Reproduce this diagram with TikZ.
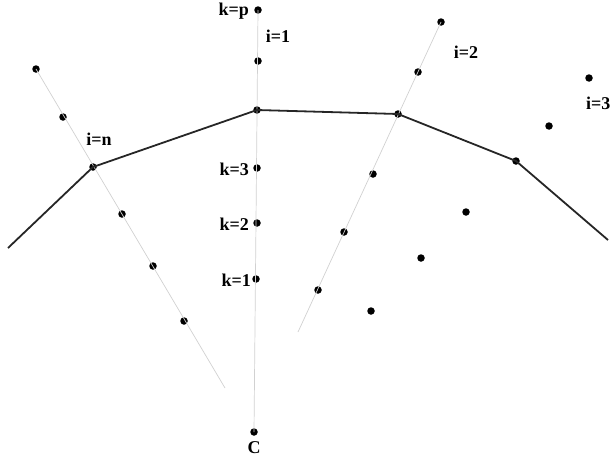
\documentclass[tikz,border=0pt]{standalone}
\usepackage{fontspec}
\setmainfont{Liberation Serif}
\begin{document}
\begin{tikzpicture}[x=1pt,y=-1pt,
  dot/.style={circle,fill=black,inner sep=0pt,minimum size=7.5pt},
  guide/.style={draw=black!18,line width=0.7pt},
  front/.style={draw=black!85,line width=1.8pt,line join=round},
  lab/.style={font=\bfseries\fontsize{18}{18}\selectfont,inner sep=0pt}]
\useasboundingbox (0,0) rectangle (610,458);
% i=1 column
\node[dot] (kp) at (258,10) {};
\node[dot] (a2) at (258,61) {};
\node[dot] (a3) at (257,110) {};
\node[dot] (k3) at (257,168) {};
\node[dot] (k2) at (257,223) {};
\node[dot] (k1) at (256,279) {};
\node[dot] (C) at (254,432) {};
% i=2 column
\node[dot] (b1) at (441,22) {};
\node[dot] (b2) at (418,72) {};
\node[dot] (b3) at (398,114) {};
\node[dot] (b4) at (373,174) {};
\node[dot] (b5) at (344,232) {};
\node[dot] (b6) at (318,290) {};
\coordinate (b7) at (298,332);
% i=3 column
\node[dot] (c1) at (589,78) {};
\node[dot] (c2) at (549,126) {};
\node[dot] (c3) at (516,161) {};
\node[dot] (c4) at (466,212) {};
\node[dot] (c5) at (421,258) {};
\node[dot] (c6) at (371,311) {};
% i=n column
\node[dot] (d1) at (36,69) {};
\node[dot] (d2) at (63,117) {};
\node[dot] (d3) at (93,167) {};
\node[dot] (d4) at (122,214) {};
\node[dot] (d5) at (153,266) {};
\node[dot] (d6) at (184,321) {};
\coordinate (d7) at (225,388);
% ends of front
\coordinate (e0) at (8,248);
\coordinate (e1) at (608,240);
% guide lines
\path[guide] (C.center) -- (kp.center);
\path[guide] (b1.center) -- (b7);
\path[guide] (d1.center) -- (d7);
% front polyline
\path[front] (e0) -- (d3.center) -- (a3.center) -- (b3.center) -- (c3.center) -- (e1);
% labels
\node[lab,anchor=east] at (249,11) {k=p};
\node[lab] at (278,36) {i=1};
\node[lab] at (466,52) {i=2};
\node[lab,anchor=west] at (586,103) {i=3};
\node[lab] at (99,139) {i=n};
\node[lab,anchor=east] at (249,169) {k=3};
\node[lab,anchor=east] at (249,224) {k=2};
\node[lab,anchor=east] at (251,280) {k=1};
\node[lab] at (254,448) {C};
\end{tikzpicture}
\end{document}
